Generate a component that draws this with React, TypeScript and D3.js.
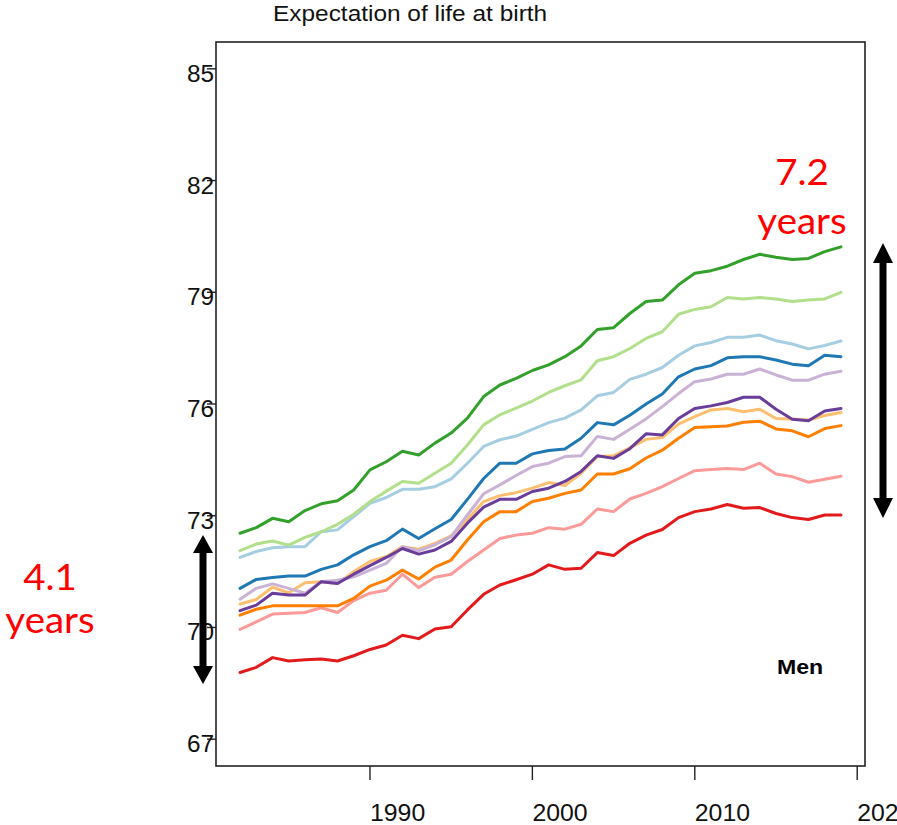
import React from "react";
import * as d3 from "d3";

const years: number[] = d3.range(1982, 2020);

const lightBlue = [71.88,72.04,72.14,72.17,72.17,72.57,72.62,72.98,73.33,73.49,73.71,73.71,73.78,73.99,74.41,74.86,75.04,75.14,75.32,75.5,75.62,75.84,76.22,76.31,76.66,76.8,76.98,77.31,77.56,77.65,77.79,77.79,77.85,77.7,77.61,77.48,77.57,77.69];
const blue = [71.05,71.29,71.34,71.38,71.38,71.56,71.68,71.95,72.17,72.33,72.64,72.39,72.65,72.9,73.44,74.0,74.41,74.41,74.66,74.75,74.79,75.08,75.5,75.44,75.7,76.0,76.27,76.73,76.94,77.03,77.24,77.27,77.27,77.18,77.07,77.03,77.31,77.27];
const lightGreen = [72.06,72.24,72.32,72.21,72.42,72.57,72.77,73.04,73.38,73.66,73.92,73.87,74.14,74.41,74.9,75.44,75.71,75.89,76.08,76.31,76.49,76.65,77.16,77.27,77.49,77.76,77.94,78.41,78.54,78.61,78.86,78.82,78.86,78.82,78.75,78.79,78.82,79.0];
const green = [72.53,72.68,72.93,72.84,73.14,73.32,73.4,73.69,74.23,74.45,74.73,74.63,74.95,75.22,75.62,76.2,76.51,76.69,76.9,77.05,77.27,77.56,78.0,78.05,78.43,78.75,78.79,79.2,79.51,79.58,79.7,79.88,80.02,79.94,79.88,79.91,80.09,80.22];
const pink = [69.95,70.15,70.36,70.38,70.4,70.53,70.4,70.72,70.92,71.0,71.43,71.07,71.35,71.43,71.77,72.08,72.39,72.48,72.53,72.68,72.64,72.77,73.18,73.11,73.45,73.6,73.78,74.0,74.21,74.24,74.27,74.24,74.41,74.12,74.05,73.9,73.98,74.06];
const red = [68.79,68.93,69.19,69.1,69.13,69.15,69.1,69.24,69.41,69.53,69.79,69.7,69.96,70.02,70.47,70.89,71.14,71.28,71.43,71.68,71.56,71.59,72.01,71.93,72.26,72.48,72.63,72.95,73.11,73.18,73.3,73.2,73.22,73.06,72.95,72.9,73.02,73.02];
const lightOrange = [70.63,70.75,71.08,70.93,71.2,71.23,71.18,71.5,71.77,71.9,72.17,72.1,72.26,72.46,72.9,73.38,73.54,73.62,73.74,73.89,73.81,74.14,74.59,74.61,74.82,75.05,75.1,75.46,75.66,75.84,75.88,75.79,75.86,75.61,75.6,75.57,75.69,75.77];
const orange = [70.33,70.49,70.58,70.58,70.58,70.58,70.58,70.78,71.11,71.27,71.54,71.3,71.62,71.81,72.35,72.84,73.11,73.11,73.38,73.47,73.6,73.69,74.12,74.12,74.26,74.55,74.76,75.08,75.37,75.39,75.41,75.51,75.54,75.33,75.28,75.12,75.34,75.42];
const lightPurple = [70.76,71.05,71.17,71.05,70.92,71.23,71.27,71.36,71.54,71.72,72.17,72.06,72.22,72.44,73.02,73.59,73.83,74.08,74.32,74.41,74.59,74.61,75.13,75.05,75.32,75.6,75.93,76.28,76.6,76.67,76.8,76.8,76.94,76.78,76.64,76.64,76.8,76.88];
const purple = [70.45,70.6,70.92,70.87,70.87,71.23,71.18,71.43,71.66,71.88,72.12,71.97,72.08,72.31,72.8,73.23,73.44,73.44,73.65,73.74,73.92,74.19,74.61,74.54,74.8,75.2,75.17,75.61,75.88,75.95,76.04,76.18,76.18,75.86,75.59,75.55,75.81,75.88];

const seriesValues = [lightBlue, blue, lightGreen, green, pink, red, lightOrange, orange, lightPurple, purple];
const seriesColors = ["#A6CEE3", "#1F78B4", "#B2DF8A", "#33A02C", "#FB9A99", "#E31A1C", "#FDBF6F", "#FF7F00", "#CAB2D6", "#6A3D9A"];

const yTicks = [67, 70, 73, 76, 79, 82, 85];
const xTicks = [1990, 2000, 2010, 2020];

const titleText = "Expectation of life at birth";
const panelLabel = "Men";
const rightNote = ["7.2", "years"];
const leftNote = ["4.1", "years"];
const rightArrowRange = [72.94, 80.32];
const leftArrowRange = [68.48, 72.48];

const W = 897;
const H = 825;
const box = { left: 216, right: 865, top: 42, bottom: 766 };

const x = d3.scaleLinear().domain([1980.52, 2020.48]).range([box.left, box.right]);
const y = d3.scaleLinear().domain([66.28, 85.72]).range([box.bottom, box.top]);

const line = d3
  .line<[number, number]>()
  .x((d) => x(d[0]))
  .y((d) => y(d[1]));

const arial = "'Liberation Sans', Arial, Helvetica, sans-serif";
const calibriLike = "Lato, 'Open Sans', sans-serif";

function Arrow({ cx, y1, y2, hw, hl, sw }: { cx: number; y1: number; y2: number; hw: number; hl: number; sw: number }) {
  const top = Math.min(y1, y2);
  const bot = Math.max(y1, y2);
  const d = [
    `M${cx},${top}`,
    `L${cx + hw},${top + hl}`,
    `L${cx + sw / 2},${top + hl}`,
    `L${cx + sw / 2},${bot - hl}`,
    `L${cx + hw},${bot - hl}`,
    `L${cx},${bot}`,
    `L${cx - hw},${bot - hl}`,
    `L${cx - sw / 2},${bot - hl}`,
    `L${cx - sw / 2},${top + hl}`,
    `L${cx - hw},${top + hl}`,
    "Z",
  ].join(" ");
  return <path d={d} fill="#000" />;
}

function SText({ x0, y0, sx, anchor, children, ...rest }: any) {
  return (
    <text transform={`translate(${x0},${y0}) scale(${sx},1)`} textAnchor={anchor} {...rest}>
      {children}
    </text>
  );
}

export default function App() {
  return (
    <svg
      width={W}
      height={H}
      viewBox={`0 0 ${W} ${H}`}
      style={{ position: "absolute", left: 0, top: 0, background: "#fff" }}
    >
      <rect x={0} y={0} width={W} height={H} fill="#fff" />
      <SText x0={273} y0={21} sx={1.11} anchor="start" fontFamily={arial} fontSize={22} fill="#111">
        {titleText}
      </SText>

      {/* series lines */}
      <g fill="none" strokeWidth={3} strokeLinejoin="round" strokeLinecap="round">
        {seriesValues.map((vals, i) => (
          <path
            key={i}
            d={line(years.map((yr, j) => [yr, vals[j]] as [number, number])) || ""}
            stroke={seriesColors[i]}
          />
        ))}
      </g>

      {/* box */}
      <rect
        x={box.left}
        y={box.top}
        width={box.right - box.left}
        height={box.bottom - box.top}
        fill="none"
        stroke="#222"
        strokeWidth={1.6}
      />

      {/* y axis ticks */}
      {yTicks.map((t) => (
        <g key={t}>
          <line x1={box.left - 9} x2={box.left} y1={y(t)} y2={y(t)} stroke="#222" strokeWidth={1.4} />
          <SText x0={214} y0={y(t) + 13} sx={1.06} anchor="end" fontFamily={arial} fontSize={23} fill="#111">
            {t}
          </SText>
        </g>
      ))}

      {/* x axis ticks */}
      {xTicks.map((t) => (
        <g key={t}>
          <line x1={x(t)} x2={x(t)} y1={box.bottom} y2={box.bottom + 14} stroke="#222" strokeWidth={1.4} />
          <SText x0={x(t)} y0={821} sx={1.08} anchor="start" fontFamily={arial} fontSize={23} fill="#111">
            {t}
          </SText>
        </g>
      ))}

      {/* panel label */}
      <SText x0={777} y0={674} sx={1.1} anchor="start" fontFamily={arial} fontSize={21} fontWeight="bold" fill="#000">
        {panelLabel}
      </SText>

      {/* annotations */}
      <SText x0={802} y0={185} sx={1.04} anchor="middle" fontFamily={calibriLike} fontSize={37} fill="#FF0000">
        {rightNote[0]}
      </SText>
      <SText x0={802} y0={234} sx={1.04} anchor="middle" fontFamily={calibriLike} fontSize={37} fill="#FF0000">
        {rightNote[1]}
      </SText>
      <SText x0={50} y0={590} sx={1.04} anchor="middle" fontFamily={calibriLike} fontSize={37} fill="#FF0000">
        {leftNote[0]}
      </SText>
      <SText x0={50} y0={633} sx={1.04} anchor="middle" fontFamily={calibriLike} fontSize={37} fill="#FF0000">
        {leftNote[1]}
      </SText>

      <Arrow cx={883} y1={y(rightArrowRange[0])} y2={y(rightArrowRange[1])} hw={10} hl={20} sw={7} />
      <Arrow cx={203} y1={y(leftArrowRange[0])} y2={y(leftArrowRange[1])} hw={10} hl={18} sw={7} />
    </svg>
  );
}
